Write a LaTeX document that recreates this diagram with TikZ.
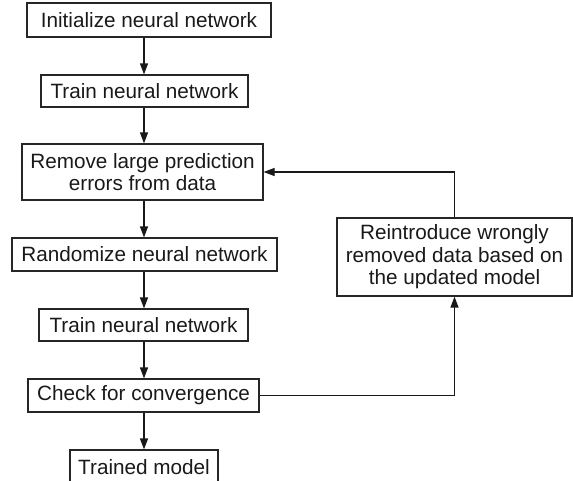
\documentclass[tikz,border=0pt]{standalone}
\usepackage{fontspec}
\setmainfont{Liberation Sans}
\usetikzlibrary{arrows.meta}
\tikzset{
  box/.style={draw=black!85, line width=1.2pt, inner sep=0pt, align=center,
    font=\fontsize{20.7}{22.6}\selectfont, text=black!90},
  arr/.style={draw=black!90, line width=1.2pt, -{Triangle[length=11pt,width=8pt]}},
  ln/.style={draw=black!90, line width=1.2pt}
}
\begin{document}
\begin{tikzpicture}[x=1pt,y=-1pt]
\useasboundingbox (0,0) rectangle (573,480);
\node[box, minimum width=244pt, minimum height=34pt] (b1) at (149,20) {Initialize neural network};
\node[box, minimum width=207pt, minimum height=32pt] (b2) at (144.5,91) {Train neural network};
\node[box, minimum width=241pt, minimum height=56pt] (b3) at (142.5,172) {Remove large prediction\\errors from data};
\node[box, minimum width=265pt, minimum height=33pt] (b4) at (144.5,254.5) {Randomize neural network};
\node[box, minimum width=209pt, minimum height=32pt] (b5) at (143.5,325) {Train neural network};
\node[box, minimum width=231pt, minimum height=33pt] (b6) at (143.5,395.5) {Check for convergence};
\node[box, minimum width=148pt, minimum height=34pt] (b7) at (144,467) {Trained model};
\node[box, minimum width=235pt, minimum height=78pt] (b8) at (454.5,257) {Reintroduce wrongly\\removed data based on\\the updated model};
\coordinate (ax) at (144,0);
\draw[arr] (ax |- b1.south) -- (ax |- b2.north);
\draw[arr] (ax |- b2.south) -- (ax |- b3.north);
\draw[arr] (ax |- b3.south) -- (ax |- b4.north);
\draw[arr] (ax |- b4.south) -- (ax |- b5.north);
\draw[arr] (ax |- b5.south) -- (ax |- b6.north);
\draw[arr] (ax |- b6.south) -- (ax |- b7.north);
\draw[arr] (b6.east) -| (b8.south);
\draw[arr] (b8.north) |- (b3.east);
\end{tikzpicture}
\end{document}
